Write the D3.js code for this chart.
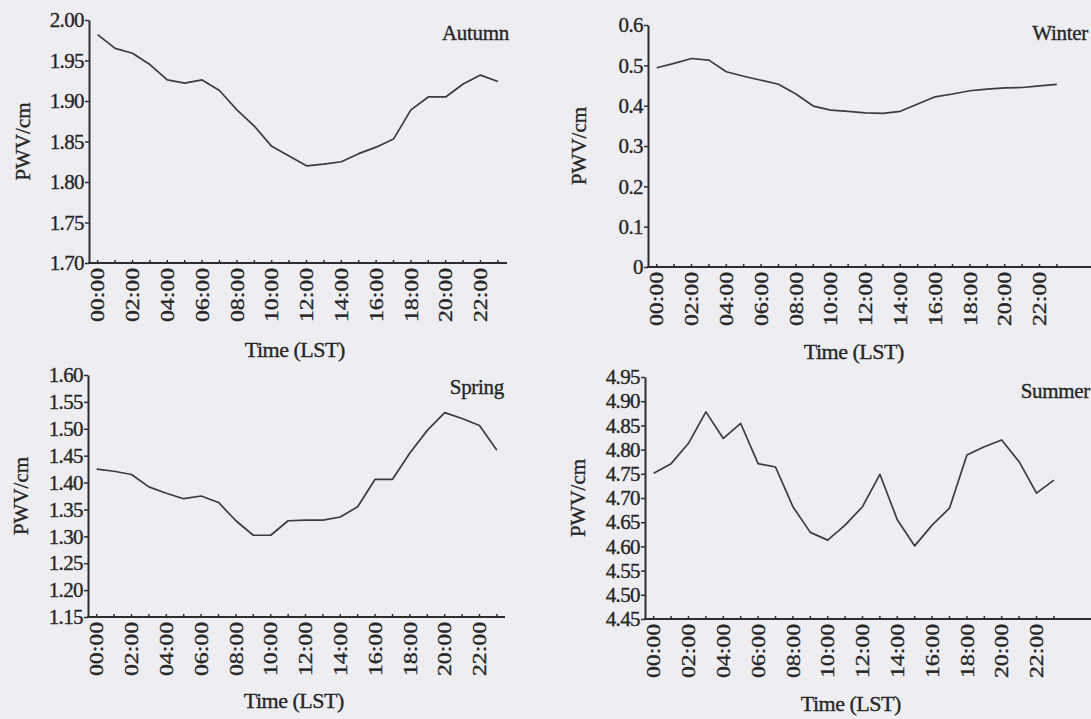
<!DOCTYPE html>
<html>
<head>
<meta charset="utf-8">
<script src="https://cdn.jsdelivr.net/npm/d3@7/dist/d3.min.js"></script>
<style>
  html, body { margin: 0; padding: 0; background: #eeeef2; }
  svg { display: block; }
  text { font-family: "Liberation Serif", "Times New Roman", serif; fill: #262626; stroke: #262626; stroke-width: 0.35px; }
</style>
</head>
<body>
<svg id="chart" width="1091" height="719"></svg>
<script>
// Hourly categories (local solar time) and the labelled ticks
const hours = d3.range(24).map(h => String(h).padStart(2, "0") + ":00");
const tickLabels = ["00:00","02:00","04:00","06:00","08:00","10:00","12:00","14:00","16:00","18:00","20:00","22:00"];

// Mean diurnal PWV (cm) for each season
const autumnPWV = [1.982,1.965,1.959,1.945,1.926,1.922,1.926,1.913,1.889,1.869,1.844,1.832,1.820,1.822,1.825,1.835,1.843,1.853,1.889,1.905,1.905,1.921,1.932,1.924];
const winterPWV = [0.494,0.505,0.517,0.513,0.484,0.473,0.463,0.453,0.429,0.399,0.389,0.386,0.382,0.381,0.386,0.404,0.422,0.429,0.437,0.441,0.444,0.445,0.449,0.453];
const springPWV = [1.425,1.421,1.415,1.392,1.380,1.370,1.375,1.363,1.329,1.302,1.302,1.329,1.330,1.330,1.336,1.355,1.406,1.406,1.455,1.497,1.530,1.519,1.506,1.460];
const summerPWV = [4.751,4.771,4.813,4.878,4.823,4.854,4.771,4.764,4.682,4.629,4.613,4.644,4.682,4.749,4.655,4.601,4.644,4.679,4.789,4.806,4.820,4.775,4.710,4.737];

// Y tick values per season
const autumnTicks = [1.70,1.75,1.80,1.85,1.90,1.95,2.00];
const winterTicks = [0,0.1,0.2,0.3,0.4,0.5,0.6];
const springTicks = [1.15,1.20,1.25,1.30,1.35,1.40,1.45,1.50,1.55,1.60];
const summerTicks = [4.45,4.50,4.55,4.60,4.65,4.70,4.75,4.80,4.85,4.90,4.95];

const panels = [
  { name: "Autumn", values: autumnPWV, ticks: autumnTicks, fmt: d3.format(".2f"),
    left: 89, top: 20, bottom: 263, axisEnd: 507, titleX: 509, titleY: 40, ylabX: 23, xlabY: 357 },
  { name: "Winter", values: winterPWV, ticks: winterTicks, fmt: d => d === 0 ? "0" : d.toFixed(1),
    left: 648, top: 25, bottom: 267, axisEnd: 1091, titleX: 1088, titleY: 40, ylabX: 579, xlabY: 359 },
  { name: "Spring", values: springPWV, ticks: springTicks, fmt: d3.format(".2f"),
    left: 88, top: 375, bottom: 617, axisEnd: 505, titleX: 504, titleY: 394, ylabX: 21, xlabY: 708 },
  { name: "Summer", values: summerPWV, ticks: summerTicks, fmt: d3.format(".2f"),
    left: 645, top: 377, bottom: 619, axisEnd: 1091, titleX: 1090, titleY: 398, ylabX: 578, xlabY: 711 }
];

const svg = d3.select("#chart");
const step = 17.4;
const ink = "#2e2e2e";

panels.forEach(p => {
  const g = svg.append("g");
  const x = d3.scaleBand().domain(hours).range([p.left, p.left + step * hours.length]).paddingInner(0).paddingOuter(0);
  const cx = h => x(h) + x.bandwidth() / 2;
  const y = d3.scaleLinear().domain([p.ticks[0], p.ticks[p.ticks.length - 1]]).range([p.bottom, p.top]);

  // y axis
  const yAxis = g.append("g").attr("transform", `translate(${p.left},0)`)
    .call(d3.axisLeft(y).tickValues(p.ticks).tickFormat(p.fmt).tickSize(4).tickSizeOuter(0).tickPadding(1));
  yAxis.select(".domain").attr("stroke", ink).attr("stroke-width", 2);
  yAxis.selectAll(".tick line").attr("stroke", ink).attr("stroke-width", 1.5);
  yAxis.selectAll("text").attr("font-size", 21).attr("font-family", "Liberation Serif")
    .attr("fill", "#262626").attr("letter-spacing", "-0.6");

  // x axis: inward hourly ticks, rotated labels every two hours
  const xAxis = g.append("g").attr("transform", `translate(0,${p.bottom})`)
    .call(d3.axisBottom(x).tickSize(-3).tickSizeOuter(0).tickFormat(d => tickLabels.includes(d) ? d : ""));
  xAxis.select(".domain").remove();
  xAxis.selectAll(".tick line").attr("stroke", ink).attr("stroke-width", 1.5);
  xAxis.selectAll("text")
    .attr("font-size", 19).attr("font-family", "Liberation Serif").attr("fill", "#262626")
    .attr("transform", "rotate(-90) scale(1.25,1)")
    .attr("text-anchor", "end")
    .attr("x", -4).attr("y", 0).attr("dy", "0.35em");
  g.append("line")
    .attr("x1", p.left - 1).attr("x2", p.axisEnd)
    .attr("y1", p.bottom).attr("y2", p.bottom)
    .attr("stroke", ink).attr("stroke-width", 2);

  // series line
  const line = d3.line().x((d, i) => cx(hours[i])).y(d => y(d));
  g.append("path").datum(p.values)
    .attr("d", line)
    .attr("fill", "none").attr("stroke", "#3c3c3c").attr("stroke-width", 1.7)
    .attr("stroke-linejoin", "round");

  // season title
  g.append("text").attr("x", p.titleX).attr("y", p.titleY)
    .attr("text-anchor", "end").attr("font-size", 21).attr("letter-spacing", "-0.3").text(p.name);

  // axis titles
  g.append("text")
    .attr("transform", `translate(${p.ylabX},${(p.top + p.bottom) / 2}) rotate(-90)`)
    .attr("text-anchor", "middle").attr("dy", "0.35em").attr("font-size", 21)
    .text("PWV/cm");
  g.append("text")
    .attr("x", (p.left + p.left + step * 24) / 2 - 3).attr("y", p.xlabY)
    .attr("text-anchor", "middle").attr("font-size", 22).attr("letter-spacing", "-0.5")
    .text("Time (LST)");
});
</script>
</body>
</html>
